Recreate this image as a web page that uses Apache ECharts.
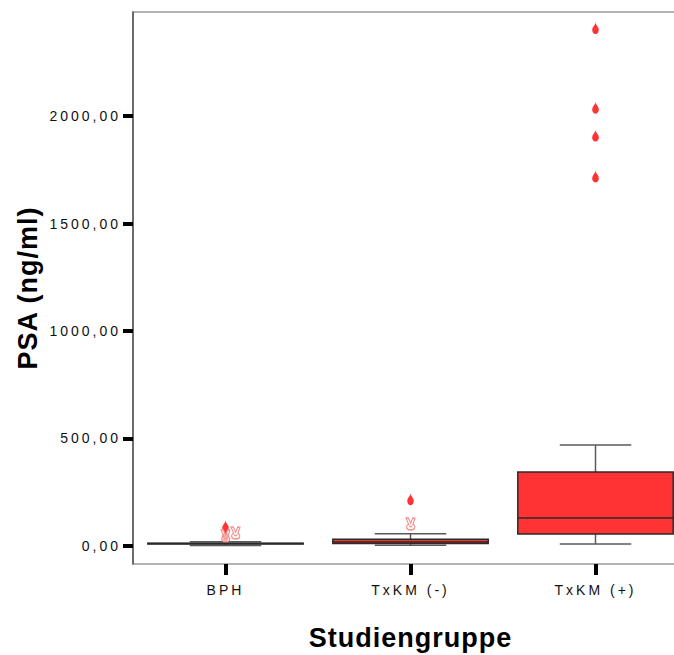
<!DOCTYPE html>
<html><head><meta charset="utf-8">
<script src="https://cdn.jsdelivr.net/npm/echarts@6/dist/echarts.min.js"></script>
<style>
html,body{margin:0;padding:0;background:#fff;}
#chart{width:674px;height:655px;}
#chart text{letter-spacing:3px;}
#chart text[style*="bold"]{letter-spacing:1px;}
</style></head><body><div id="chart"></div>
<script>
const categories = ['BPH', 'TxKM (-)', 'TxKM (+)'];
const boxLow    = [2, 3, 9];
const boxQ1     = [9, 11, 56];
const boxMedian = [11, 18, 130];
const boxQ3     = [13, 31, 344];
const boxHigh   = [20, 57, 470];
const outlierCat = [0, 0, 1, 2, 2, 2, 2];
const outlierVal = [93, 51, 218, 2410, 2040, 1910, 1720];
const extremeCat = [0, 0, 1];
const extremeVal = [47, 60, 102];
const yTicks = [0, 500, 1000, 1500, 2000];

const chart = echarts.init(document.getElementById('chart'), null, {renderer: 'svg'});

const boxData = categories.map((c, i) => [i, boxLow[i], boxQ1[i], boxMedian[i], boxQ3[i], boxHigh[i]]);
const outlierData = outlierVal.map((v, i) => [outlierCat[i], v]);
const seen = {};
const extremeData = extremeVal.map((v, i) => {
  const c = extremeCat[i];
  const k = seen[c] || 0; seen[c] = k + 1;
  return {value: [c, v], symbolOffset: [k * 10, 0]};
});

const handPath = 'path://M26,2 L38,2 L50,44 L60,2 L72,4 L61,54 C76,60 76,96 50,98 C24,96 24,60 40,54 Z M42,70 L58,70';

const option = {
  animation: false,
  backgroundColor: '#fff',
  textStyle: {fontFamily: 'Liberation Sans, Arial, sans-serif'},
  grid: {left: 133, top: 12, width: 555, height: 552, show: true, borderColor: '#9a9a9a', borderWidth: 1.5, outerBoundsMode: 'none', containLabel: false},
  xAxis: {
    type: 'category', data: categories,
    axisLine: {show: false, onZero: false},
    axisTick: {show: true, alignWithLabel: true, length: 11, lineStyle: {color: '#000', width: 4}},
    axisLabel: {fontSize: 14, color: '#111', margin: 19},
    splitLine: {show: false},
    name: 'Studiengruppe', nameLocation: 'middle', nameGap: 60,
    nameTextStyle: {fontSize: 27, fontWeight: 'bold', color: '#000'}
  },
  yAxis: {
    type: 'value', min: -84, max: 2484,
    axisLine: {show: true, onZero: false, lineStyle: {color: '#555', width: 1.5}},
    axisTick: {show: true, customValues: yTicks, length: 10, lineStyle: {color: '#000', width: 4}},
    axisLabel: {customValues: yTicks, fontSize: 14, color: '#111', margin: 12,
      formatter: v => v.toFixed(2).replace('.', ',')},
    splitLine: {show: false},
    name: 'PSA (ng/ml)', nameLocation: 'middle', nameGap: 92,
    nameTextStyle: {fontSize: 27, fontWeight: 'bold', color: '#000'}
  },
  series: [
    {
      type: 'custom',
      data: boxData,
      encode: {x: 0, y: [1, 2, 3, 4, 5]},
      renderItem: function (params, api) {
        const c = api.value(0);
        const pLow = api.coord([c, api.value(1)]);
        const pQ1 = api.coord([c, api.value(2)]);
        const pMed = api.coord([c, api.value(3)]);
        const pQ3 = api.coord([c, api.value(4)]);
        const pHigh = api.coord([c, api.value(5)]);
        const band = api.size([1, 0])[0];
        const bw = band * 0.84, cw = bw * 0.46;
        const x = pMed[0];
        const ws = {stroke: '#5a5a5a', lineWidth: 1.5};
        return {
          type: 'group',
          children: [
            {type: 'line', shape: {x1: x, y1: pQ3[1], x2: x, y2: pHigh[1]}, style: ws},
            {type: 'line', shape: {x1: x, y1: pQ1[1], x2: x, y2: pLow[1]}, style: ws},
            {type: 'line', shape: {x1: x - cw / 2, y1: pHigh[1], x2: x + cw / 2, y2: pHigh[1]}, style: ws},
            {type: 'line', shape: {x1: x - cw / 2, y1: pLow[1], x2: x + cw / 2, y2: pLow[1]}, style: ws},
            {type: 'rect', shape: {x: x - bw / 2, y: pQ3[1], width: bw, height: pQ1[1] - pQ3[1]},
              style: {fill: '#ff3333', stroke: '#2a2a2a', lineWidth: 1.5}},
            {type: 'line', shape: {x1: x - bw / 2, y1: pMed[1], x2: x + bw / 2, y2: pMed[1]},
              style: {stroke: '#2a2a2a', lineWidth: 1.5}}
          ]
        };
      }
    },
    {
      type: 'scatter',
      data: outlierData,
      symbol: 'pin', symbolRotate: 180, symbolSize: [11, 14], symbolOffset: [0, -6],
      itemStyle: {color: '#ff3333', opacity: 1}
    },
    {
      type: 'scatter',
      data: extremeData,
      symbol: handPath, symbolSize: [9, 12],
      itemStyle: {color: 'rgba(255,255,255,0.6)', borderColor: '#f59090', borderWidth: 1.2, opacity: 1}
    }
  ]
};
chart.setOption(option);
</script></body></html>
